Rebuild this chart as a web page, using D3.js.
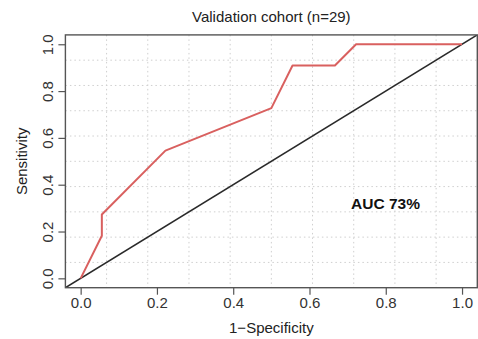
<!DOCTYPE html>
<html>
<head>
<meta charset="utf-8">
<script src="https://cdn.jsdelivr.net/npm/d3@7"></script>
<style>
  html, body { margin: 0; padding: 0; background: #fff; }
  text { font-family: "Liberation Sans", Arial, Helvetica, sans-serif; }
</style>
</head>
<body>
<svg id="chart" width="478" height="339"></svg>
<script>
const title = "Validation cohort (n=29)";
const xLabel = "1\u2212Specificity";
const yLabel = "Sensitivity";
const aucLabel = "AUC 73%";
const fpr = [0, 1/18, 1/18, 4/18, 9/18, 10/18, 12/18, 13/18, 1];
const tpr = [0, 2/11, 3/11, 6/11, 8/11, 10/11, 10/11, 1, 1];
const xTicks = [0, 0.2, 0.4, 0.6, 0.8, 1.0];
const yTicks = [0, 0.2, 0.4, 0.6, 0.8, 1.0];
const gridCells = 10;

const svg = d3.select("#chart");
const box = { left: 65.4, right: 477.3, top: 34.9, bottom: 287.7 };
const x = d3.scaleLinear().domain([-0.04, 1.04]).range([box.left, box.right]);
const y = d3.scaleLinear().domain([-0.04, 1.04]).range([box.bottom, box.top]);

// grid (R grid(): divide user range into cells)
const gx = d3.range(1, gridCells).map(i => -0.04 + i * 1.08 / gridCells);
svg.append("g").selectAll("line").data(gx).join("line")
  .attr("x1", d => x(d)).attr("x2", d => x(d))
  .attr("y1", box.top).attr("y2", box.bottom)
  .attr("stroke", "#cfcfcf").attr("stroke-width", 1).attr("stroke-dasharray", "1.5,3");
svg.append("g").selectAll("line").data(gx).join("line")
  .attr("y1", d => y(d)).attr("y2", d => y(d))
  .attr("x1", box.left).attr("x2", box.right)
  .attr("stroke", "#cfcfcf").attr("stroke-width", 1).attr("stroke-dasharray", "1.5,3");

// clip
svg.append("clipPath").attr("id", "clip").append("rect")
  .attr("x", box.left).attr("y", box.top)
  .attr("width", box.right - box.left).attr("height", box.bottom - box.top);

// diagonal
svg.append("line")
  .attr("clip-path", "url(#clip)")
  .attr("x1", x(-0.04)).attr("y1", y(-0.04)).attr("x2", x(1.04)).attr("y2", y(1.04))
  .attr("stroke", "#2a2a2a").attr("stroke-width", 1.6);

// ROC curve
const pts = fpr.map((f, i) => [f, tpr[i]]);
svg.append("path").datum(pts)
  .attr("d", d3.line().x(d => x(d[0])).y(d => y(d[1])))
  .attr("fill", "none").attr("stroke", "#d9605f").attr("stroke-width", 2)
  .attr("stroke-linejoin", "round");

// box
svg.append("rect")
  .attr("x", box.left).attr("y", box.top)
  .attr("width", box.right - box.left).attr("height", box.bottom - box.top)
  .attr("fill", "none").attr("stroke", "#555").attr("stroke-width", 1.4);

// x axis
const xAxis = svg.append("g").attr("transform", `translate(0,${box.bottom})`)
  .call(d3.axisBottom(x).tickValues(xTicks).tickFormat(d3.format(".1f")).tickSize(7).tickPadding(3));
xAxis.select(".domain").remove();
xAxis.selectAll("line").attr("stroke", "#555").attr("stroke-width", 1.2);
xAxis.selectAll("text").attr("font-size", 15).attr("fill", "#333")
  .attr("font-family", "Liberation Sans, Arial, sans-serif");

// y axis
const yAxis = svg.append("g").attr("transform", `translate(${box.left},0)`)
  .call(d3.axisLeft(y).tickValues(yTicks).tickFormat(d3.format(".1f")).tickSize(7).tickPadding(3));
yAxis.select(".domain").remove();
yAxis.selectAll("line").attr("stroke", "#555").attr("stroke-width", 1.2);
yAxis.selectAll("text")
  .attr("font-size", 15).attr("fill", "#333")
  .attr("font-family", "Liberation Sans, Arial, sans-serif")
  .attr("x", null).attr("dy", null)
  .attr("text-anchor", "middle")
  .attr("transform", "translate(-12,0) rotate(-90)");

// titles
svg.append("text").attr("x", (box.left + box.right) / 2).attr("y", 22)
  .attr("text-anchor", "middle").attr("font-size", 15).attr("fill", "#222").text(title);
svg.append("text").attr("x", (box.left + box.right) / 2).attr("y", 333)
  .attr("text-anchor", "middle").attr("font-size", 15).attr("fill", "#222").text(xLabel);
svg.append("text").attr("transform", `translate(27,${(box.top + box.bottom) / 2}) rotate(-90)`)
  .attr("text-anchor", "middle").attr("font-size", 15).attr("fill", "#222").text(yLabel);

// AUC label
svg.append("text").attr("x", 351).attr("y", 208.5)
  .attr("font-size", 15.5).attr("font-weight", "bold").attr("fill", "#111").text(aucLabel);
</script>
</body>
</html>
